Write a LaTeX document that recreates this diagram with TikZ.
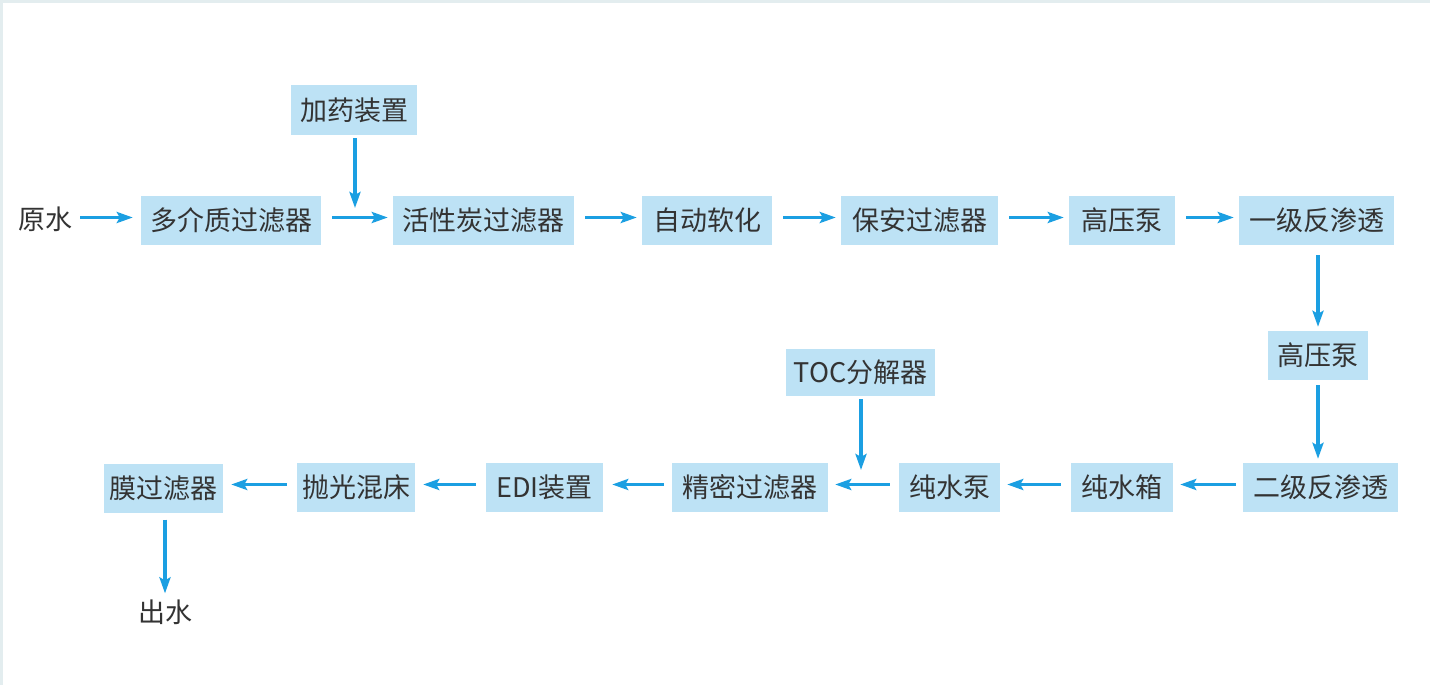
\documentclass[tikz,border=0pt]{standalone}
\usepackage{fontspec}
\setmainfont{Noto Sans CJK SC}
\usetikzlibrary{arrows.meta}
\definecolor{boxfill}{HTML}{BDE2F5}
\definecolor{arrowc}{HTML}{1B9FE2}
\definecolor{txt}{HTML}{333333}
\definecolor{edge}{HTML}{E3EDEF}
\tikzset{
  x=1pt,y=-1pt,
  stagebox/.style={fill=boxfill,draw=none,inner sep=0pt,text=txt,
    font=\fontsize{27}{30}\selectfont,minimum height=49pt},
  plain/.style={inner sep=0pt,text=txt,font=\fontsize{27}{30}\selectfont},
  arr/.style={draw=arrowc,line width=3.5pt,
    -{Stealth[length=16pt,width=11pt,inset=3pt]},
    shorten <=11pt,shorten >=5pt},
}
\begin{document}
\begin{tikzpicture}
\path[use as bounding box,fill=white] (0,0) rectangle (1430,685);
\draw[edge,line width=3pt] (1.5,685) -- (1.5,1.5) -- (1430,1.5);
% top row
\node[plain] (raw) at (46,219) {原水};
\node[stagebox,minimum width=180pt] (b1) at (231,220.5) {多介质过滤器};
\node[stagebox,minimum width=181pt] (b2) at (483.5,220.5) {活性炭过滤器};
\node[stagebox,minimum width=130pt] (b3) at (707,220.5) {自动软化};
\node[stagebox,minimum width=157pt] (b4) at (919.5,220.5) {保安过滤器};
\node[stagebox,minimum width=106pt] (b5) at (1122,220.5) {高压泵};
\node[stagebox,minimum width=155pt] (b6) at (1316.5,220.5) {一级反渗透};
\node[stagebox,minimum width=126pt,minimum height=50pt] (add) at (354,110) {加药装置};
% right column
\node[stagebox,minimum width=100pt] (b7) at (1318,355.5) {高压泵};
% bottom row
\node[stagebox,minimum width=155pt] (b8) at (1320.5,487.5) {二级反渗透};
\node[stagebox,minimum width=102pt] (b9) at (1122,487.5) {纯水箱};
\node[stagebox,minimum width=101pt] (b10) at (949.5,487.5) {纯水泵};
\node[stagebox,minimum width=156pt] (b11) at (750,487.5) {精密过滤器};
\node[stagebox,minimum width=117pt] (b12) at (544.5,487.5) {EDI装置};
\node[stagebox,minimum width=118pt] (b13) at (356,487.5) {抛光混床};
\node[stagebox,minimum width=119pt] (b14) at (163.5,488) {膜过滤器};
\node[stagebox,minimum width=149pt,minimum height=47pt] (toc) at (860.5,372.5) {TOC分解器};
\node[plain] (out) at (165,612) {出水};
\coordinate (j1) at (355,208);
\coordinate (j2) at (861,470);
% arrows top row
\draw[arr,shorten <=7pt,shorten >=8pt] ([yshift=3pt]b1.west -| raw.east) -- ([yshift=3pt]b1.west);
\draw[arr] ([yshift=3pt]b1.east) -- ([yshift=3pt]b2.west);
\draw[arr] ([yshift=3pt]b2.east) -- ([yshift=3pt]b3.west);
\draw[arr] ([yshift=3pt]b3.east) -- ([yshift=3pt]b4.west);
\draw[arr] ([yshift=3pt]b4.east) -- ([yshift=3pt]b5.west);
\draw[arr] ([yshift=3pt]b5.east) -- ([yshift=3pt]b6.west);
\draw[arr,shorten <=3pt,shorten >=0pt] (add.south -| j1) -- (j1);
% right column
\draw[arr,shorten <=10pt,shorten >=4pt] (b6.south -| b7) -- (b7.north);
\draw[arr,shorten <=5pt,shorten >=4pt] (b7.south) -- (b7.south |- b8.north);
% bottom row
\draw[arr,shorten <=7pt,shorten >=7pt] ([yshift=3pt]b8.west) -- ([yshift=3pt]b9.east);
\draw[arr,shorten <=10pt,shorten >=7pt] ([yshift=3pt]b9.west) -- ([yshift=3pt]b10.east);
\draw[arr,shorten <=9pt,shorten >=7pt] ([yshift=3pt]b10.west) -- ([yshift=3pt]b11.east);
\draw[arr,shorten <=8pt,shorten >=9pt] ([yshift=3pt]b11.west) -- ([yshift=3pt]b12.east);
\draw[arr,shorten <=10pt,shorten >=8pt] ([yshift=3pt]b12.west) -- ([yshift=3pt]b13.east);
\draw[arr,shorten <=10pt,shorten >=8pt] ([yshift=3pt]b13.west) -- ([yshift=3pt]b13.west -| b14.east);
\draw[arr,shorten <=3pt,shorten >=0pt] (toc.south -| j2) -- (j2);
\draw[arr,shorten <=7pt,shorten >=6pt] (b14.south -| out) -- (out.north);
\end{tikzpicture}
\end{document}
